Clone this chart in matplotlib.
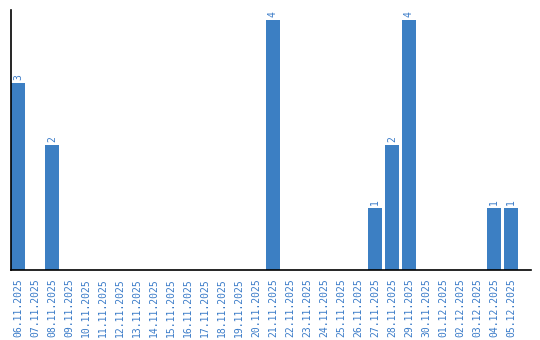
"""Daily counts bar chart, 06.11.2025 - 05.12.2025."""

import matplotlib as mpl

mpl.use("Agg")
import matplotlib.pyplot as plt
import numpy as np

dates = [
    "06.11.2025", "07.11.2025", "08.11.2025", "09.11.2025", "10.11.2025",
    "11.11.2025", "12.11.2025", "13.11.2025", "14.11.2025", "15.11.2025",
    "16.11.2025", "17.11.2025", "18.11.2025", "19.11.2025", "20.11.2025",
    "21.11.2025", "22.11.2025", "23.11.2025", "24.11.2025", "25.11.2025",
    "26.11.2025", "27.11.2025", "28.11.2025", "29.11.2025", "30.11.2025",
    "01.12.2025", "02.12.2025", "03.12.2025", "04.12.2025", "05.12.2025",
]
counts = [3, 0, 2, 0, 0, 0, 0, 0, 0, 0,
          0, 0, 0, 0, 0, 4, 0, 0, 0, 0,
          0, 1, 2, 4, 0, 0, 0, 0, 1, 1]

BLUE = "#3c7fc3"
LABEL_BLUE = "#3a7bc8"

fig = plt.figure(figsize=(5.4, 3.4), dpi=100)
ax = fig.add_axes([10.5 / 540, 70 / 340, (531 - 10.5) / 540, 260 / 340])

x = np.arange(len(dates))
bars = ax.bar(x, counts, width=0.82, color=BLUE)

# value labels only on non-zero bars
for rect, v in zip(bars, counts):
    if v:
        ax.annotate(str(v), (rect.get_x() + rect.get_width() / 2, v),
                    xytext=(0, 2), textcoords="offset points",
                    ha="center", va="bottom", rotation=90,
                    fontsize=7, family="DejaVu Sans Mono", color=LABEL_BLUE)

ax.set_xlim(-0.44, len(dates) - 1 + 1.18)
ax.set_ylim(0, 4.16)
ax.set_xticks(x)
ax.set_xticklabels(dates, rotation=90, fontsize=7,
                   family="DejaVu Sans Mono", color=LABEL_BLUE)
ax.tick_params(axis="x", length=0, pad=6)
ax.set_yticks([])
for side in ("top", "right"):
    ax.spines[side].set_visible(False)
for side in ("left", "bottom"):
    ax.spines[side].set_linewidth(1.2)

fig.savefig("out.png", dpi=100)
plt.close(fig)
